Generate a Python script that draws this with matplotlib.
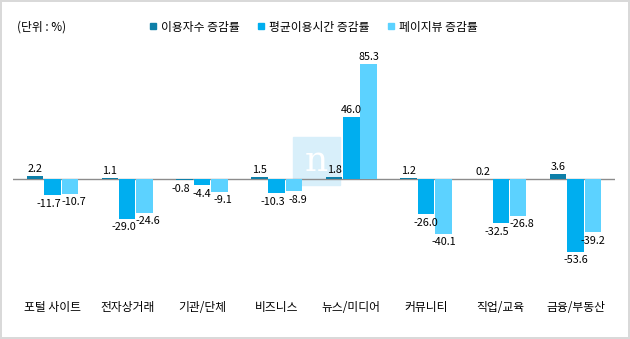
import matplotlib.pyplot as plt
import matplotlib.patches as mpatches
from matplotlib.lines import Line2D
import numpy as np

plt.rcParams['font.family'] = ['Noto Sans CJK KR', 'DejaVu Sans']

# *************************************************************************
# Data
categories = ['포털 사이트', '전자상거래', '기관/단체', '비즈니스', '뉴스/미디어', '커뮤니티', '직업/교육', '금융/부동산']
users = [2.2, 1.1, -0.8, 1.5, 1.8, 1.2, 0.2, 3.6]
avg_time = [-11.7, -29.0, -4.4, -10.3, 46.0, -26.0, -32.5, -53.6]
page_views = [-10.7, -24.6, -9.1, -8.9, 85.3, -40.1, -26.8, -39.2]
series_names = ['이용자수 증감률', '평균이용시간 증감률', '페이지뷰 증감률']
colors = ['#0E7FA8', '#00AEEF', '#5CD2FF']

# *************************************************************************
fig = plt.figure(figsize=(6.3, 3.39), dpi=100)
fig.patch.set_edgecolor('#D9D9D9')
fig.patch.set_linewidth(1.5)

ax = fig.add_axes([13 / 630, 1 - 295 / 339, 602 / 630, 255 / 339])
ax.patch.set_visible(False)

x = np.arange(len(categories))
w = 0.22
offsets = [-0.232, 0, 0.232]
series = [users, avg_time, page_views]

for vals, off, col in zip(series, offsets, colors):
    ax.bar(x + off, vals, width=w, color=col, zorder=2)

# Value labels, nudged sideways when neighbours in a group would collide
for i in range(len(categories)):
    vals = [s[i] for s in series]
    dx = [0.0, 0.0, 0.0]
    for j in range(2):
        a, b = vals[j], vals[j + 1]
        if (a < 0) == (b < 0) and abs(a - b) < 8:
            dx[j] -= 2.5
            dx[j + 1] += 2.5
    for j, v in enumerate(vals):
        ax.annotate('{:.1f}'.format(v), (x[i] + offsets[j], v),
                    xytext=(dx[j], 1.5 if v >= 0 else -2.5), textcoords='offset points',
                    ha='center', va='bottom' if v >= 0 else 'top', fontsize=7.8, zorder=3)

ax.axhline(0, color='#8C8C8C', linewidth=1, zorder=1)

ax.set_xlim(-0.53, 7.53)
ax.set_ylim(-85.5, 102.9)
ax.set_yticks([])
ax.set_xticks(x)
ax.set_xticklabels(categories, fontsize=8.5)
ax.tick_params(axis='x', length=0, pad=4)
for s in ax.spines.values():
    s.set_visible(False)

# Watermark box
fig.patches.append(mpatches.Rectangle((293 / 630, 1 - 185 / 339), 47 / 630, 48 / 339,
                                      transform=fig.transFigure, color='#D8EFFA', zorder=-1))
fig.text(316 / 630, 1 - 161 / 339, 'n', fontsize=26, family='DejaVu Serif',
         color='white', ha='center', va='center', zorder=-0.5)

# Unit label and legend
fig.text(17 / 630, 1 - 27 / 339, '(단위 : %)', fontsize=8.5, va='center')
handles = [Line2D([], [], marker='s', linestyle='none', markersize=4, color=c) for c in colors]
fig.legend(handles, series_names, loc='center', bbox_to_anchor=(314 / 630, 1 - 27 / 339),
           ncol=3, frameon=False, fontsize=8.5, handlelength=0.5, handletextpad=0.4,
           columnspacing=1.6)

plt.savefig('out.png', format='png')
